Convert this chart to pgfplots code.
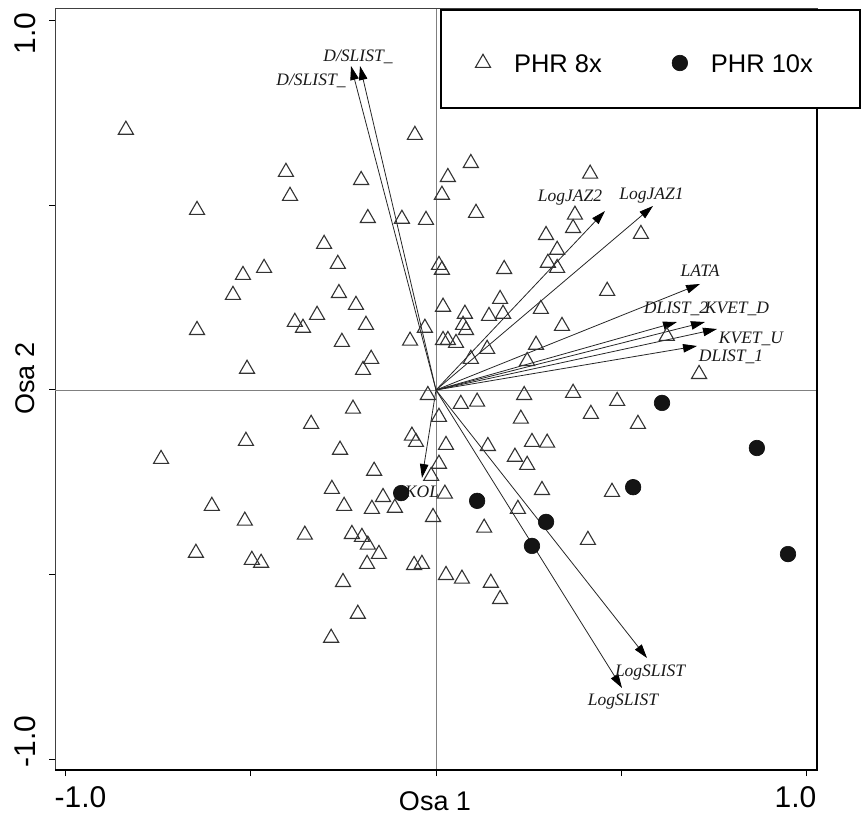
\documentclass[border=0pt]{standalone}
\usepackage{fontspec}
\setmainfont{Liberation Sans}
\newfontfamily\lblfont{Liberation Serif}
\usepackage{pgfplots}
\pgfplotsset{compat=1.18}
\usetikzlibrary{arrows.meta}

\pgfplotstableread{
x y
-0.837 0.704
-0.405 0.590
-0.394 0.525
-0.645 0.487
-0.521 0.311
-0.464 0.330
-0.548 0.257
-0.645 0.162
-0.381 0.184
-0.359 0.168
-0.510 0.057
-0.513 -0.138
-0.742 -0.187
-0.605 -0.314
-0.516 -0.354
-0.648 -0.441
-0.497 -0.460
-0.472 -0.468
-0.354 -0.392
-0.227 -0.390
-0.200 -0.398
-0.184 -0.419
-0.154 -0.444
-0.186 -0.471
-0.059 -0.474
-0.038 -0.471
-0.251 -0.520
0.027 -0.501
0.070 -0.511
0.130 -0.373
0.148 -0.522
0.173 -0.566
-0.211 -0.606
-0.283 -0.671
-0.008 -0.344
-0.265 0.341
0.008 0.338
0.016 0.325
0.184 0.327
0.302 0.344
0.327 0.330
-0.262 0.262
-0.216 0.230
-0.321 0.203
-0.189 0.176
-0.254 0.130
-0.175 0.084
-0.197 0.054
-0.070 0.133
-0.030 0.168
0.019 0.225
0.078 0.206
0.073 0.176
0.081 0.162
0.019 0.135
0.032 0.135
0.054 0.127
0.143 0.200
0.173 0.246
0.181 0.206
0.283 0.219
0.340 0.173
0.270 0.122
0.138 0.111
0.094 0.084
0.246 0.078
-0.022 -0.014
0.238 -0.014
0.370 -0.008
0.067 -0.038
0.111 -0.032
-0.224 -0.051
-0.337 -0.092
0.008 -0.073
0.229 -0.078
-0.065 -0.124
-0.054 -0.141
0.027 -0.149
0.140 -0.152
0.259 -0.141
0.300 -0.143
-0.259 -0.162
0.213 -0.181
0.246 -0.203
0.008 -0.200
-0.167 -0.219
-0.013 -0.233
-0.281 -0.268
0.286 -0.271
-0.143 -0.290
0.024 -0.281
-0.248 -0.314
-0.173 -0.322
-0.111 -0.319
0.221 -0.322
0.462 0.268
0.623 0.146
0.710 0.043
0.489 -0.030
0.418 -0.065
0.545 -0.092
0.475 -0.276
0.410 -0.406
0.416 0.585
0.375 0.474
0.370 0.438
0.553 0.422
-0.057 0.690
0.094 0.614
0.032 0.576
0.016 0.528
0.108 0.479
-0.202 0.568
-0.184 0.465
-0.092 0.463
-0.027 0.460
-0.302 0.395
0.297 0.419
0.327 0.379
}\phrEight

\pgfplotstableread{
x y
-0.094 -0.279
0.111 -0.300
0.297 -0.357
0.259 -0.422
0.610 -0.035
0.866 -0.157
0.532 -0.263
0.950 -0.444
}\phrTen

\newcommand\tickfont{\fontsize{30bp}{30bp}\selectfont}
\newcommand\labfont{\fontsize{27bp}{27bp}\selectfont}
\newcommand\legfont{\fontsize{25.5bp}{25.5bp}\selectfont}

\begin{document}
\begin{tikzpicture}[
  arr/.style={draw=black!85, line width=0.8bp, -{Triangle[length=14bp,width=8.5bp,black]}},
  lbl/.style={font=\lblfont\itshape\fontsize{17.5bp}{17.5bp}\selectfont, anchor=base, inner sep=0pt, text=black!90}
]
\useasboundingbox (0,0) rectangle (864bp,816bp);
\begin{axis}[
  at={(55bp,46bp)}, anchor=south west,
  scale only axis, width=762bp, height=761bp,
  xmin=-1.0283, xmax=1.0283, ymin=-1.0284, ymax=1.0311,
  clip=false,
  axis line style={draw=black!75, line width=1bp},
  tick pos=left, tick align=outside, major tick length=6bp,
  tick style={black, line width=1bp},
  xtick={-1,-0.5,0,0.5,1}, xticklabels={,,,,1.0\kern-10bp},
  ytick={-1,-0.5,0,0.5,1}, yticklabels={,,,,1.0\kern-8bp},
  xticklabel style={font=\tickfont, inner xsep=0pt, inner ysep=10bp, anchor=north east},
  extra x ticks={-1}, extra x tick labels={\kern-11bp-1.0},
  extra x tick style={xticklabel style={anchor=north west}},
  yticklabel style={font=\tickfont, inner xsep=0pt, inner ysep=13bp, rotate=90, anchor=south east},
  extra y ticks={-1}, extra y tick labels={\kern-8bp-1.0},
  extra y tick style={yticklabel style={anchor=south west}},
  xlabel={Osa 1}, ylabel={Osa 2},
  xlabel style={at={(axis description cs:0.4987,-0.0530)}, anchor=base, font=\labfont, inner sep=0pt},
  ylabel style={at={(axis description cs:-0.0269,0.514)}, anchor=base, font=\labfont, inner sep=0pt},
  legend columns=2,
  legend style={at={(axis description cs:0.50525,1)}, anchor=north west,
    draw=black, line width=2bp, fill=white,
    inner xsep=32bp, inner ysep=36bp, font=\legfont,
    cells={anchor=base},
    nodes={inner sep=0pt, text depth=0pt},
    /tikz/every odd column/.append style={column sep=21bp},
    /tikz/every even column/.append style={column sep=68bp},
    /tikz/column 3/.append style={column sep=26bp}},
  legend image code/.code={\draw[#1] plot coordinates {(10bp,9.3bp)}; \path[draw=none,fill=none] (0bp,0bp) rectangle (20bp,26.3bp);},
]
% zero lines
\draw[black!50, line width=0.8bp] (axis cs:0,-1.0284) -- (axis cs:0,1.0311);
\draw[black!50, line width=0.8bp] (axis cs:-1.0283,0) -- (axis cs:1.0283,0);
\draw[black, line width=2bp] (rel axis cs:0,0) -- (rel axis cs:1,0) -- (rel axis cs:1,1);

\addplot[only marks, mark=triangle, mark size=8.7bp, mark options={draw=black!80, line width=1.1bp}] table {\phrEight};
\addlegendentry{PHR 8x}
\addplot[only marks, mark=*, mark size=7.8bp, mark options={draw=black!95, fill=black!92, line width=0.6bp}] table {\phrTen};
\addlegendentry{PHR 10x\hspace*{15bp}}

% biplot arrows
\addplot[arr, forget plot] coordinates {(0,0) (-0.2294,0.8769)};
\addplot[arr, forget plot] coordinates {(0,0) (-0.2051,0.8769)};
\addplot[arr, forget plot] coordinates {(0,0) (0.4561,0.4844)};
\addplot[arr, forget plot] coordinates {(0,0) (0.5857,0.4980)};
\addplot[arr, forget plot] coordinates {(0,0) (0.7126,0.2869)};
\addplot[arr, forget plot] coordinates {(0,0) (0.6505,0.1840)};
\addplot[arr, forget plot] coordinates {(0,0) (0.7260,0.1840)};
\addplot[arr, forget plot] coordinates {(0,0) (0.7584,0.1651)};
\addplot[arr, forget plot] coordinates {(0,0) (0.7045,0.1191)};
\addplot[arr, forget plot] coordinates {(0,0) (-0.0378,-0.2382)};
\addplot[arr, forget plot] coordinates {(0,0) (0.5695,-0.7253)};
\addplot[arr, forget plot] coordinates {(0,0) (0.5020,-0.8065)};

\node[lbl] at (axis cs:-0.2105,0.8877) {D/SLIST\_};
\node[lbl] at (axis cs:-0.3374,0.8254) {D/SLIST\_};
\node[lbl] at (axis cs:0.3617,0.5088) {LogJAZ2};
\node[lbl] at (axis cs:0.5816,0.5142) {LogJAZ1};
\node[lbl] at (axis cs:0.7126,0.3058) {LATA};
\node[lbl] at (axis cs:0.6478,0.2057) {DLIST\_2};
\node[lbl] at (axis cs:0.8124,0.2057) {KVET\_D};
\node[lbl] at (axis cs:0.8502,0.1245) {KVET\_U};
\node[lbl] at (axis cs:0.7962,0.0758) {DLIST\_1};
\node[lbl] at (axis cs:-0.0378,-0.2896) {KOL};
\node[lbl] at (axis cs:0.5776,-0.7767) {LogSLIST};
\node[lbl] at (axis cs:0.5047,-0.8525) {LogSLIST};
\end{axis}
\end{tikzpicture}
\end{document}
